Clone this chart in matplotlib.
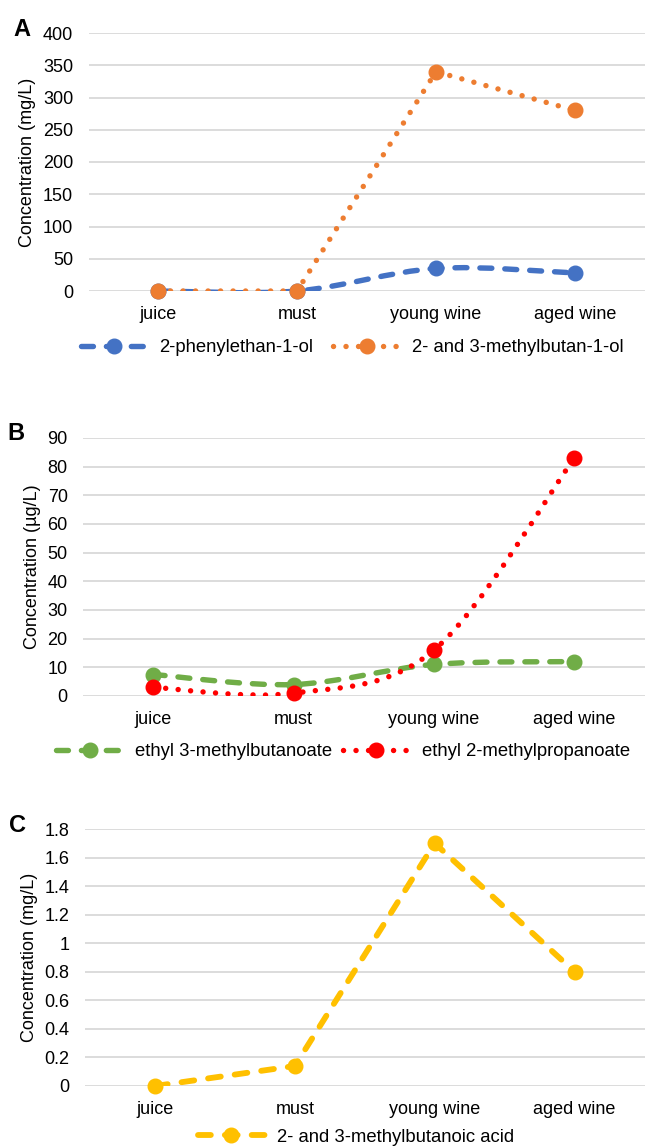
"""
Three-panel aroma compound concentrations across wine-making stages.
Writes out.png (645x1148).
"""

import matplotlib
matplotlib.use("Agg")
import matplotlib.pyplot as plt
import numpy as np
from matplotlib.lines import Line2D
from matplotlib.patches import PathPatch
from matplotlib.path import Path

plt.rcParams["font.family"] = ["Liberation Sans", "DejaVu Sans"]

STAGES = ["juice", "must", "young wine", "aged wine"]

# panel A (mg/L)
phenylethanol = [0, 0, 35, 28]
methylbutanol = [0, 0, 340, 280]
# panel B (ug/L)
ethyl_methylbutanoate = [7.5, 4, 11, 12]
ethyl_methylpropanoate = [3, 1, 16, 83]
# panel C (mg/L)
methylbutanoic_acid = [0, 0.14, 1.7, 0.8]

BLUE = "#4472C4"
ORANGE = "#ED7D31"
GREEN = "#70AD47"
RED = "#FF0000"
YELLOW = "#FFC000"
GRID = "#D9D9D9"

# dash patterns are in units of line width; round caps eat into the gaps
DASH = (0, (2.2, 2.4))
DOT = (0, (0.01, 2.3))
FS = 13


def smooth_path(x, y):
    # Excel-style smoothed line: cubic bezier through the points
    x = np.asarray(x, float)
    y = np.asarray(y, float)
    n = len(x)
    verts = [(x[0], y[0])]
    codes = [Path.MOVETO]
    for i in range(n - 1):
        x0, y0 = (x[i - 1], y[i - 1]) if i > 0 else (x[i], y[i])
        x3, y3 = (x[i + 2], y[i + 2]) if i + 2 < n else (x[i + 1], y[i + 1])
        c1 = (x[i] + (x[i + 1] - x0) / 6, y[i] + (y[i + 1] - y0) / 6)
        c2 = (x[i + 1] - (x3 - x[i]) / 6, y[i + 1] - (y3 - y[i]) / 6)
        verts += [c1, c2, (x[i + 1], y[i + 1])]
        codes += [Path.CURVE4] * 3
    return Path(verts, codes)


def series(ax, vals, color, ls, lw, ms, smooth):
    x = np.arange(len(vals))
    if smooth:
        ax.add_patch(PathPatch(smooth_path(x, vals), fill=False, edgecolor=color,
                               lw=lw, linestyle=ls, capstyle="round", zorder=3))
    else:
        ax.plot(x, vals, color=color, lw=lw, linestyle=ls,
                dash_capstyle="round", zorder=3)
    ax.plot(x, vals, "o", color=color, ms=ms, zorder=4, clip_on=False)
    return Line2D([], [], color=color, lw=lw, linestyle=ls, marker="o", ms=ms,
                  dash_capstyle="round")


def style(ax, ymax, step, ylabel, letter):
    ax.set_xlim(-0.5, 3.5)
    ax.set_ylim(0, ymax)
    ticks = np.arange(0, ymax + step / 2, step)
    ax.set_yticks(ticks)
    ax.set_yticklabels([f"{t:g}" for t in ticks])
    ax.set_xticks(range(len(STAGES)))
    ax.set_xticklabels(STAGES)
    ax.tick_params(length=0, labelsize=FS, pad=11)
    ax.tick_params(axis="y", pad=11)
    ax.grid(axis="y", color=GRID, lw=1.3)
    ax.set_axisbelow(True)
    for s in ax.spines.values():
        s.set_visible(False)
    ax.set_ylabel(ylabel, fontsize=FS, labelpad=5)
    h = ax.get_position().height * H
    ax.text(-0.135, 1 + 4 / h, letter, transform=ax.transAxes, fontsize=17,
            fontweight="bold", ha="left", va="center")


def legend(ax, handles, labels, cx, cy, ncol, colsp):
    ax.legend(handles, labels, loc="center", bbox_to_anchor=(cx / W, 1 - cy / H),
              bbox_transform=fig.transFigure, ncol=ncol, frameon=False,
              fontsize=13.3, handlelength=3.6, columnspacing=colsp,
              handletextpad=0.65, borderpad=0, borderaxespad=0)


W, H = 645, 1148
fig = plt.figure(figsize=(W / 100, H / 100), dpi=100)


def axes_px(left, top, bottom):
    return fig.add_axes([left / W, 1 - bottom / H, (644.5 - left) / W, (bottom - top) / H])


# panel A
axA = axes_px(88.5, 33, 291)
hA1 = series(axA, phenylethanol, BLUE, DASH, 3.9, 10.5, True)
hA2 = series(axA, methylbutanol, ORANGE, DOT, 3.9, 10.5, False)
style(axA, 400, 50, "Concentration (mg/L)", "A")
legend(axA, [hA1, hA2], ["2-phenylethan-1-ol", "2- and 3-methylbutan-1-ol"],
       352, 348, 2, 1.1)

# panel B
axB = axes_px(83, 438, 696)
hB1 = series(axB, ethyl_methylbutanoate, GREEN, DASH, 3.9, 10.5, True)
hB2 = series(axB, ethyl_methylpropanoate, RED, DOT, 3.9, 10.5, True)
style(axB, 90, 10, "Concentration (µg/L)", "B")
legend(axB, [hB1, hB2], ["ethyl 3-methylbutanoate", "ethyl 2-methylpropanoate"],
       343, 752, 2, 0.6)

# panel C
axC = axes_px(85, 829, 1086)
hC = series(axC, methylbutanoic_acid, YELLOW, DASH, 4.2, 10.5, False)
style(axC, 1.8, 0.2, "Concentration (mg/L)", "C")
legend(axC, [hC], ["2- and 3-methylbutanoic acid"], 356, 1137, 1, 1.0)

fig.savefig("out.png", dpi=100)
